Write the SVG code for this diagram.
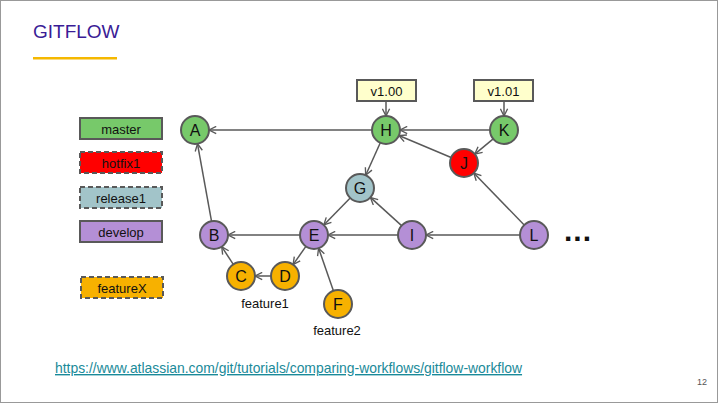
<svg xmlns="http://www.w3.org/2000/svg" width="719" height="404" viewBox="0 0 719 404">
<style>
text{font-family:"Liberation Sans",Arial,sans-serif;}
.node circle{stroke:#595959;stroke-width:2;}
.node text{font-size:16px;text-anchor:middle;fill:#111;}
.leg rect{stroke:#595959;stroke-width:2;}
.leg text{font-size:13px;text-anchor:middle;fill:#111;}
.dash{stroke-dasharray:5 3;}
.tag rect{fill:#ffffcc;stroke:#595959;stroke-width:2;}
.tag text{font-size:13px;text-anchor:middle;fill:#111;}
.edges line{stroke:#595959;stroke-width:1.5;marker-end:url(#arr);}
.lbl{font-size:13px;text-anchor:middle;fill:#111;}
.m{fill:#77c96a}.r{fill:#ff0000}.g{fill:#a2c4c9}.p{fill:#b48fd6}.o{fill:#f7b100}
</style>
<defs>
<marker id="arr" viewBox="0 0 10 10" refX="9" refY="5" markerWidth="9" markerHeight="9" markerUnits="userSpaceOnUse" orient="auto">
<path d="M1,1 L9,5 L1,9" fill="none" stroke="#595959" stroke-width="1.5"/>
</marker>
</defs>
<rect x="0.5" y="0.5" width="717" height="402" fill="#fff" stroke="#999" stroke-width="1"/>
<text x="33" y="38" font-size="19" fill="#3a1c96">GITFLOW</text>
<rect x="33" y="57" width="84" height="2.5" fill="#f5b800"/>

<g id="legend-master" class="leg"><rect x="80" y="118" width="82" height="21" class="m"/><text x="121" y="133.5">master</text></g>
<g id="legend-hotfix1" class="leg"><rect x="80" y="152" width="82" height="21" class="r dash"/><text x="121" y="167.5">hotfix1</text></g>
<g id="legend-release1" class="leg"><rect x="80" y="187" width="82" height="21" class="g dash"/><text x="121" y="202.5">release1</text></g>
<g id="legend-develop" class="leg"><rect x="80" y="221" width="82" height="21" class="p"/><text x="121" y="236.5">develop</text></g>
<g id="legend-featureX" class="leg"><rect x="81" y="277" width="82" height="21" class="o dash"/><text x="122" y="292.5">featureX</text></g>

<g class="edges">
<line x1="372" y1="130" x2="209" y2="130"/>
<line x1="490" y1="130" x2="400" y2="130"/>
<line x1="493.2" y1="138.9" x2="474.8" y2="154.1"/>
<line x1="451.1" y1="157.5" x2="398.9" y2="135.5"/>
<line x1="380.3" y1="142.8" x2="365.7" y2="175.2"/>
<line x1="386" y1="101" x2="386" y2="116"/>
<line x1="504" y1="101" x2="504" y2="116"/>
<line x1="350.2" y1="198" x2="323.8" y2="225"/>
<line x1="401.6" y1="225.6" x2="370.4" y2="197.4"/>
<line x1="524.2" y1="225" x2="473.8" y2="173"/>
<line x1="520" y1="235" x2="426" y2="235"/>
<line x1="398" y1="235" x2="328" y2="235"/>
<line x1="300" y1="235" x2="228" y2="235"/>
<line x1="211.5" y1="221.2" x2="197.5" y2="143.8"/>
<line x1="233.3" y1="264.3" x2="221.7" y2="246.7"/>
<line x1="271" y1="276" x2="255" y2="276"/>
<line x1="305.9" y1="246.4" x2="293.1" y2="264.6"/>
<line x1="333.4" y1="290.8" x2="318.6" y2="248.2"/>
</g>

<g id="tag-v100" class="tag"><rect x="357" y="80" width="59" height="21"/><text x="386.5" y="95.5">v1.00</text></g>
<g id="tag-v101" class="tag"><rect x="474" y="80" width="59" height="21"/><text x="503.5" y="95.5">v1.01</text></g>

<g id="A" class="node"><circle cx="195" cy="130" r="14" class="m"/><text x="195" y="136">A</text></g>
<g id="H" class="node"><circle cx="386" cy="130" r="14" class="m"/><text x="386" y="136">H</text></g>
<g id="K" class="node"><circle cx="504" cy="130" r="14" class="m"/><text x="504" y="136">K</text></g>
<g id="J" class="node"><circle cx="464" cy="163" r="14" class="r"/><text x="464" y="169">J</text></g>
<g id="G" class="node"><circle cx="360" cy="188" r="14" class="g"/><text x="360" y="194">G</text></g>
<g id="B" class="node"><circle cx="214" cy="235" r="14" class="p"/><text x="214" y="241">B</text></g>
<g id="E" class="node"><circle cx="314" cy="235" r="14" class="p"/><text x="314" y="241">E</text></g>
<g id="I" class="node"><circle cx="412" cy="235" r="14" class="p"/><text x="412" y="241">I</text></g>
<g id="L" class="node"><circle cx="534" cy="235" r="14" class="p"/><text x="534" y="241">L</text></g>
<g id="C" class="node"><circle cx="241" cy="276" r="14" class="o"/><text x="241" y="282">C</text></g>
<g id="D" class="node"><circle cx="285" cy="276" r="14" class="o"/><text x="285" y="282">D</text></g>
<g id="F" class="node"><circle cx="338" cy="304" r="14" class="o"/><text x="338" y="310">F</text></g>

<text class="lbl" x="265" y="308">feature1</text>
<text class="lbl" x="337" y="335">feature2</text>
<text x="578" y="241" font-size="30" font-weight="bold" text-anchor="middle" fill="#111" letter-spacing="1">...</text>

<text x="55" y="373" font-size="13.9" fill="#1a8a99" text-decoration="underline">https://www.atlassian.com/git/tutorials/comparing-workflows/gitflow-workflow</text>
<text x="697" y="385" font-size="9" fill="#555">12</text>
</svg>
